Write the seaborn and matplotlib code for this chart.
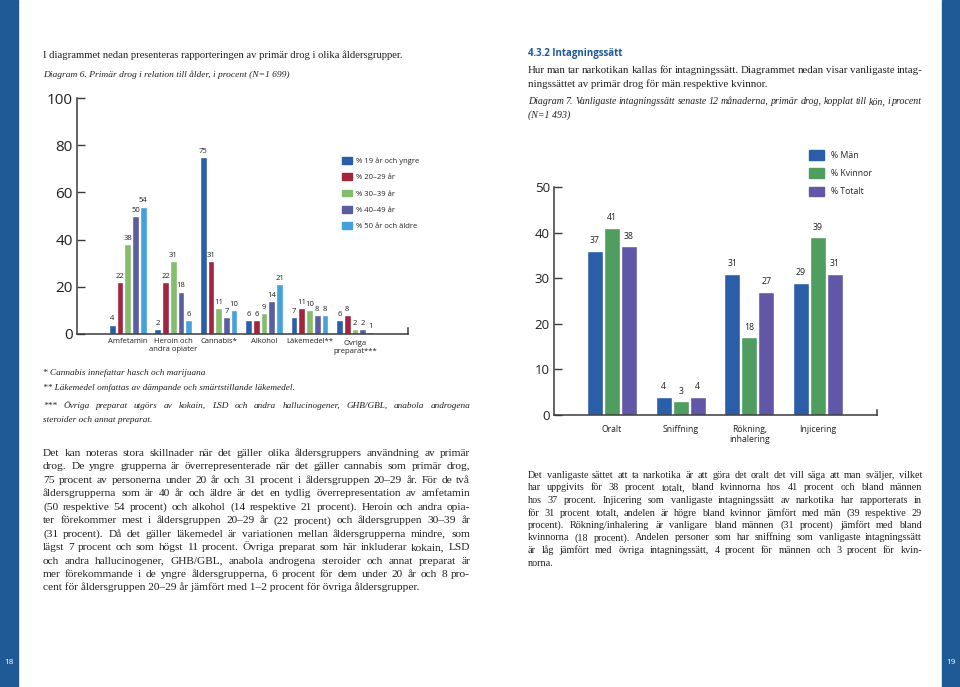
import matplotlib
matplotlib.use("Agg")
import numpy as np
import pandas as pd
import matplotlib.pyplot as plt
import seaborn as sns
from matplotlib.patches import Patch, Rectangle

# --- Diagram 6: primär drog per åldersgrupp ---
drugs = ["Amfetamin", "Heroin och\nandra opiater", "Cannabis*", "Alkohol",
         "Läkemedel**", "Övriga\npreparat***"]
age_groups = ["% 19 år och yngre", "% 20–29 år", "% 30–39 år", "% 40–49 år",
              "% 50 år och äldre"]
age_19 = [4, 2, 75, 6, 7, 6]
age_20_29 = [22, 22, 31, 6, 11, 8]
age_30_39 = [38, 31, 11, 9, 10, 2]
age_40_49 = [50, 18, 7, 14, 8, 2]
age_50 = [54, 6, 10, 21, 8, 1]
age_colors = ["#2b5ea9", "#a2243f", "#84bd6c", "#5a5ea0", "#45a0de"]

# --- Diagram 7: intagningssätt per kön ---
methods = ["Oralt", "Sniffning", "Rökning,\ninhalering", "Injicering"]
sexes = ["% Män", "% Kvinnor", "% Totalt"]
men = [36, 4, 31, 29]
women = [41, 3, 17, 39]
total = [37, 4, 27, 31]
men_labels = [37, 4, 31, 29]
women_labels = [41, 3, 18, 39]
total_labels = [38, 4, 27, 31]
sex_colors = ["#2b5ea9", "#4f9d5f", "#6157a6"]

BLUE = "#1f5a97"
INK = "#231f20"
SERIF = "Liberation Serif"
SANS = "Open Sans"

sns.set_theme(style="white")
plt.rcParams["font.family"] = [SANS, "DejaVu Sans"]

W, H = 960, 687
fig = plt.figure(figsize=(9.6, 6.87), dpi=100)
renderer = fig.canvas.get_renderer()


def fx(x):
    return x / W


def fy(y):
    return 1 - y / H


def text_line(s, x0, y, size, x1=None, style="normal", family=SERIF,
              color=INK, weight="normal"):
    kw = dict(fontsize=size, fontstyle=style, family=family, color=color,
              fontweight=weight, va="baseline")
    if x1 is None:
        fig.text(fx(x0), fy(y), s, **kw)
        return
    # justified line: spread the words between x0 and x1
    words = s.split(" ")
    parts = [fig.text(0, 0, w, **kw) for w in words]
    widths = [p.get_window_extent(renderer).width for p in parts]
    gap = (x1 - x0 - sum(widths)) / (len(words) - 1)
    x = x0
    for p, w in zip(parts, widths):
        p.set_position((fx(x), fy(y)))
        x += w + gap


def style_axes(ax, ylim, yticks, tick_size, end_tick, xsize, xpad):
    ax.set_ylim(*ylim)
    ax.set_yticks(yticks)
    ax.set_xlabel("")
    ax.set_ylabel("")
    for side in ["left", "bottom", "right"]:
        ax.spines[side].set_visible(True)
        ax.spines[side].set_color("#3a3a3a")
        ax.spines[side].set_linewidth(1.1)
    ax.spines["top"].set_visible(False)
    ax.spines["right"].set_bounds(0, end_tick)
    ax.tick_params(axis="y", direction="in", length=6, width=1,
                   color="#3a3a3a", labelsize=tick_size, pad=3,
                   labelcolor=INK, left=True)
    ax.tick_params(axis="x", length=0, labelsize=xsize, pad=xpad,
                   labelcolor=INK)
    ax.set_facecolor("none")


# page side bars
fig.patches.append(Rectangle((0, 0), 18 / W, 1, transform=fig.transFigure,
                             color=BLUE, zorder=0))
fig.patches.append(Rectangle((942 / W, 0), 18 / W, 1,
                             transform=fig.transFigure, color=BLUE, zorder=0))
fig.text(fx(9), fy(663), "18", color="white", fontsize=6, ha="center",
         va="center", family=SANS)
fig.text(fx(951), fy(663), "19", color="white", fontsize=6, ha="center",
         va="center", family=SANS)

# ---------------- left chart ----------------
df_age = pd.DataFrame(
    [(d, g, v) for g, vals in zip(age_groups, [age_19, age_20_29, age_30_39,
                                               age_40_49, age_50])
     for d, v in zip(drugs, vals)],
    columns=["drog", "grupp", "andel"])

ax1 = fig.add_axes([fx(77), fy(334), 331 / W, 236 / H])
sns.barplot(data=df_age, x="drog", y="andel", hue="grupp", order=drugs,
            hue_order=age_groups, palette=age_colors, saturation=1,
            width=0.85, gap=0.13, errorbar=None, legend=False, ax=ax1)
ax1.set_xlim(-1.12, 6.17)
style_axes(ax1, (0, 100), [0, 20, 40, 60, 80, 100], 11, 2.5, 5.5, 3)
for cont, vals in zip(ax1.containers, [age_19, age_20_29, age_30_39,
                                       age_40_49, age_50]):
    ax1.bar_label(cont, labels=[str(v) for v in vals], padding=1.5,
                  fontsize=5.5, color=INK)
ax1.legend(handles=[Patch(color=c, label=g) for c, g in zip(age_colors, age_groups)],
           loc="upper left", bbox_to_anchor=(fx(342), fy(157)),
           bbox_transform=fig.transFigure, frameon=False, fontsize=5.5,
           handlelength=1.3, handleheight=1.0, handletextpad=0.5,
           labelspacing=1.08, borderpad=0, borderaxespad=0)

# ---------------- right chart ----------------
df_sex = pd.DataFrame(
    [(m, s, v) for s, vals in zip(sexes, [men, women, total])
     for m, v in zip(methods, vals)],
    columns=["satt", "kon", "andel"])

ax2 = fig.add_axes([fx(554), fy(415), 323 / W, 228 / H])
sns.barplot(data=df_sex, x="satt", y="andel", hue="kon", order=methods,
            hue_order=sexes, palette=sex_colors, saturation=1,
            width=0.74, gap=0.06, errorbar=None, legend=False, ax=ax2)
ax2.set_xlim(-0.845, 3.86)
style_axes(ax2, (0, 50), [0, 10, 20, 30, 40, 50], 9.5, 1.1, 6.2, 7)
for cont, labs in zip(ax2.containers, [men_labels, women_labels, total_labels]):
    ax2.bar_label(cont, labels=[str(v) for v in labs], padding=4,
                  fontsize=6.3, color=INK)
ax2.legend(handles=[Patch(color=c, label=s) for c, s in zip(sex_colors, sexes)],
           loc="upper left", bbox_to_anchor=(fx(809), fy(150)),
           bbox_transform=fig.transFigure, frameon=False, fontsize=6.3,
           handlelength=1.75, handleheight=1.3, handletextpad=0.8,
           labelspacing=0.98, borderpad=0, borderaxespad=0)

# ---------------- left page text ----------------
text_line("I diagrammet nedan presenteras rapporteringen av primär drog i olika åldersgrupper.",
          43, 58, 7.7)
text_line("Diagram 6. Primär drog i relation till ålder, i procent (N=1 699)",
          43, 77, 6.8, style="italic")
text_line("* Cannabis innefattar hasch och marijuana", 43, 375, 6.7, style="italic")
text_line("** Läkemedel omfattas av dämpande och smärtstillande läkemedel.",
          43, 390, 6.7, style="italic")
text_line("*** Övriga preparat utgörs av kokain, LSD och andra hallucinogener, GHB/GBL, anabola androgena",
          43, 408, 6.7, x1=470, style="italic")
text_line("steroider och annat preparat.", 43, 422, 6.7, style="italic")

left_par = [
    "Det kan noteras stora skillnader när det gäller olika åldersgruppers användning av primär",
    "drog. De yngre grupperna är överrepresenterade när det gäller cannabis som primär drog,",
    "75 procent av personerna under 20 år och 31 procent i åldersgruppen 20–29 år. För de två",
    "åldersgrupperna som är 40 år och äldre är det en tydlig överrepresentation av amfetamin",
    "(50 respektive 54 procent) och alkohol (14 respektive 21 procent). Heroin och andra opia-",
    "ter förekommer mest i åldersgruppen 20–29 år (22 procent) och åldersgruppen 30–39 år",
    "(31 procent). Då det gäller läkemedel är variationen mellan åldersgrupperna mindre, som",
    "lägst 7 procent och som högst 11 procent. Övriga preparat som här inkluderar kokain, LSD",
    "och andra hallucinogener, GHB/GBL, anabola androgena steroider och annat preparat är",
    "mer förekommande i de yngre åldersgrupperna, 6 procent för dem under 20 år och 8 pro-",
    "cent för åldersgruppen 20–29 år jämfört med 1–2 procent för övriga åldersgrupper.",
]
for i, line in enumerate(left_par):
    last = i == len(left_par) - 1
    text_line(line, 43, 456 + 13.45 * i, 8.2, x1=None if last else 470)

# ---------------- right page text ----------------
text_line("4.3.2 Intagningssätt", 528, 56, 7.0, family=SANS, color=BLUE,
          weight="bold")
text_line("Hur man tar narkotikan kallas för intagningssätt. Diagrammet nedan visar vanligaste intag-",
          528, 73, 7.8, x1=922)
text_line("ningssättet av primär drog för män respektive kvinnor.", 528, 87, 7.8)
text_line("Diagram 7. Vanligaste intagningssätt senaste 12 månaderna, primär drog, kopplat till kön, i procent",
          528, 104, 7.1, x1=922, style="italic")
text_line("(N=1 493)", 528, 118, 7.1, style="italic")

right_par = [
    "Det vanligaste sättet att ta narkotika är att göra det oralt det vill säga att man sväljer, vilket",
    "har uppgivits för 38 procent totalt, bland kvinnorna hos 41 procent och bland männen",
    "hos 37 procent. Injicering som vanligaste intagningssätt av narkotika har rapporterats in",
    "för 31 procent totalt, andelen är högre bland kvinnor jämfört med män (39 respektive 29",
    "procent). Rökning/inhalering är vanligare bland männen (31 procent) jämfört med bland",
    "kvinnorna (18 procent). Andelen personer som har sniffning som vanligaste intagningssätt",
    "är låg jämfört med övriga intagningssätt, 4 procent för männen och 3 procent för kvin-",
    "norna.",
]
for i, line in enumerate(right_par):
    last = i == len(right_par) - 1
    text_line(line, 528, 478 + 12.5 * i, 7.3, x1=None if last else 922)

fig.savefig("out.png", dpi=100)
